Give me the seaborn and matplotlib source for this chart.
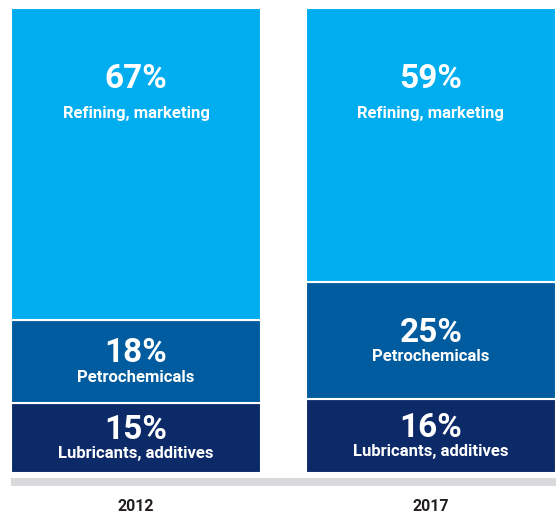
import numpy as np
import pandas as pd
import seaborn as sns
import matplotlib.pyplot as plt
from matplotlib.patches import Rectangle

# --- DATA ---
years = ["2012", "2017"]
segments = ["Lubricants, additives", "Petrochemicals", "Refining, marketing"]
lubricants = [15, 16]
petrochem = [18, 25]
refining = [67, 59]

colors = {"Lubricants, additives": "#0d2a68",
          "Petrochemicals": "#005c9e",
          "Refining, marketing": "#00aeef"}

df = pd.DataFrame({"year": years,
                   "Lubricants, additives": lubricants,
                   "Petrochemicals": petrochem,
                   "Refining, marketing": refining})

sns.set_theme(style="white")
plt.rcParams['font.family'] = ['Roboto', 'DejaVu Sans']

fig = plt.figure(figsize=(5.56, 5.16), dpi=100)
ax = fig.add_axes([0, 0, 1, 1])

bar_w = 250 / 295
bottom = np.zeros(len(years))
for seg in segments:
    sns.barplot(data=df, x="year", y=seg, order=years, color=colors[seg],
                width=bar_w, bottom=bottom, edgecolor="white", linewidth=1.5,
                saturation=1, ax=ax)
    vals = df[seg].to_numpy()
    for i, v in enumerate(vals):
        if seg == "Refining, marketing":
            y_pct, y_lab = 100 - 15.3, 100 - 22.6
        else:
            mid = bottom[i] + v / 2
            y_pct, y_lab = mid + 1.7, mid - 3.4
        ax.text(i, y_pct, f"{v}%", ha="center", va="center", color="white",
                fontsize=24, fontweight="bold")
        ax.text(i, y_lab, seg, ha="center", va="center", color="white",
                fontsize=12, fontweight="bold")
    bottom = bottom + vals

# grey baseline strip
ax.add_patch(Rectangle((-0.4237, -2.8), 1.9, 1.72, color="#dadadc", lw=0))

for i, yr in enumerate(years):
    ax.text(i, -7.3, yr, ha="center", va="center", color="#231f20",
            fontsize=11.5, fontweight="bold")

ax.set_xlim(-0.461, 1.424)
ax.set_ylim(-9.25, 101.72)
ax.axis("off")

plt.savefig("out.png", dpi=100)
